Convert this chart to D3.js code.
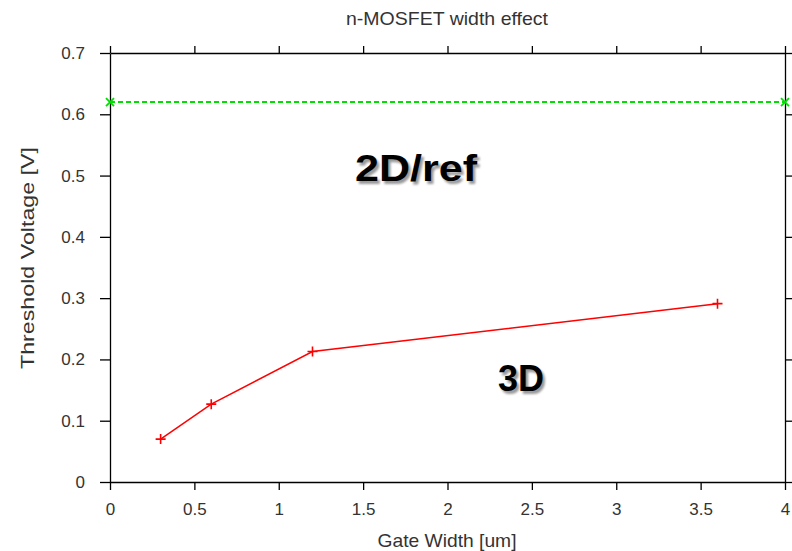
<!DOCTYPE html>
<html>
<head>
<meta charset="utf-8">
<script src="https://cdn.jsdelivr.net/npm/d3@7"></script>
<style>
  body { margin: 0; background: #fff; }
  text { font-family: "Liberation Sans", Arial, sans-serif; fill: #333; }
</style>
</head>
<body>
<div id="chart"></div>
<script>
// n-MOSFET width effect
const width3d = [0.3, 0.6, 1.2, 3.6];
const vth3d = [0.070, 0.127, 0.213, 0.291];
const width2d = [0, 4];
const vth2d = [0.62, 0.62];
const xTicks = [0, 0.5, 1, 1.5, 2, 2.5, 3, 3.5, 4];
const yTicks = [0, 0.1, 0.2, 0.3, 0.4, 0.5, 0.6, 0.7];

let w = 792, h = 551;
let margin = {left: 110, right: 7, top: 53, bottom: 69};

let svg = d3.select("#chart").append("svg")
    .attr("width", w)
    .attr("height", h);

let defs = svg.append("defs");
defs.append("filter").attr("id", "shadow")
    .append("feGaussianBlur").attr("stdDeviation", 1.3);

let xScale = d3.scaleLinear().domain([0, 4]).range([margin.left, w - margin.right]);
let yScale = d3.scaleLinear().domain([0, 0.7]).range([h - margin.bottom, margin.top]);

let fmt = d => String(+d.toFixed(2));

// axes on all four sides
svg.append("g")
    .attr("transform", "translate(0," + yScale(0) + ")")
    .call(d3.axisBottom(xScale).tickValues(xTicks).tickFormat(fmt).tickSize(8).tickPadding(13).tickSizeOuter(0));
svg.append("g")
    .attr("transform", "translate(0," + yScale(0.7) + ")")
    .call(d3.axisTop(xScale).tickValues(xTicks).tickFormat("").tickSize(7).tickSizeOuter(0));
svg.append("g")
    .attr("transform", "translate(" + xScale(0) + ",0)")
    .call(d3.axisLeft(yScale).tickValues(yTicks).tickFormat(fmt).tickSize(10).tickPadding(15).tickSizeOuter(0));
svg.append("g")
    .attr("transform", "translate(" + xScale(4) + ",0)")
    .call(d3.axisRight(yScale).tickValues(yTicks).tickFormat("").tickSize(8).tickSizeOuter(0));

svg.selectAll(".domain, .tick line").attr("stroke", "#000").attr("stroke-width", 1.3);
svg.selectAll(".tick text")
    .attr("font-size", null)
    .style("font-size", "17px")
    .attr("fill", "#333");

// titles
svg.append("text")
    .attr("x", 447).attr("y", 25)
    .attr("textLength", 202).attr("lengthAdjust", "spacingAndGlyphs")
    .style("text-anchor", "middle").style("font-size", "19px")
    .text("n-MOSFET width effect");
svg.append("text")
    .attr("x", 447).attr("y", 547)
    .attr("textLength", 139).attr("lengthAdjust", "spacingAndGlyphs")
    .style("text-anchor", "middle").style("font-size", "19px")
    .text("Gate Width [um]");
svg.append("text")
    .attr("transform", "translate(34,258) rotate(-90)")
    .attr("textLength", 222).attr("lengthAdjust", "spacingAndGlyphs")
    .style("text-anchor", "middle").style("font-size", "19px")
    .text("Threshold Voltage [V]");

// 2D reference line
let line = d3.line().x(d => xScale(d[0])).y(d => yScale(d[1]));
let ref = d3.zip(width2d, vth2d);
svg.append("path")
    .attr("d", line(ref))
    .attr("fill", "none")
    .attr("stroke", "#00e000")
    .attr("stroke-width", 2)
    .attr("stroke-dasharray", "5,3");
svg.selectAll(".xmark")
    .data(ref).enter()
    .append("path")
    .attr("class", "xmark")
    .attr("transform", d => "translate(" + xScale(d[0]) + "," + yScale(d[1]) + ")")
    .attr("d", "M-4,-4L4,4M-4,4L4,-4")
    .attr("stroke", "#00e000")
    .attr("stroke-width", 1.8);

// 3D curve
let pts = d3.zip(width3d, vth3d);
svg.append("path")
    .attr("d", line(pts))
    .attr("fill", "none")
    .attr("stroke", "#ff0000")
    .attr("stroke-width", 1.5);
svg.selectAll(".pmark")
    .data(pts).enter()
    .append("path")
    .attr("class", "pmark")
    .attr("transform", d => "translate(" + xScale(d[0]) + "," + yScale(d[1]) + ")")
    .attr("d", "M-5,0L5,0M0,-5L0,5")
    .attr("stroke", "#ff0000")
    .attr("stroke-width", 1.6);

// big labels with soft shadow
function bigLabel(txt, x, y, len) {
    for (let s of [true, false]) {
        svg.append("text")
            .attr("x", x + (s ? 2.5 : 0)).attr("y", y + (s ? 2.5 : 0))
            .attr("filter", s ? "url(#shadow)" : null)
            .attr("textLength", len).attr("lengthAdjust", "spacingAndGlyphs")
            .style("font-size", "37px").style("font-weight", "bold")
            .style("fill", s ? "#999" : "#000")
            .text(txt);
    }
}
bigLabel("2D/ref", 355, 181, 122);
bigLabel("3D", 498, 391, 46);
</script>
</body>
</html>
